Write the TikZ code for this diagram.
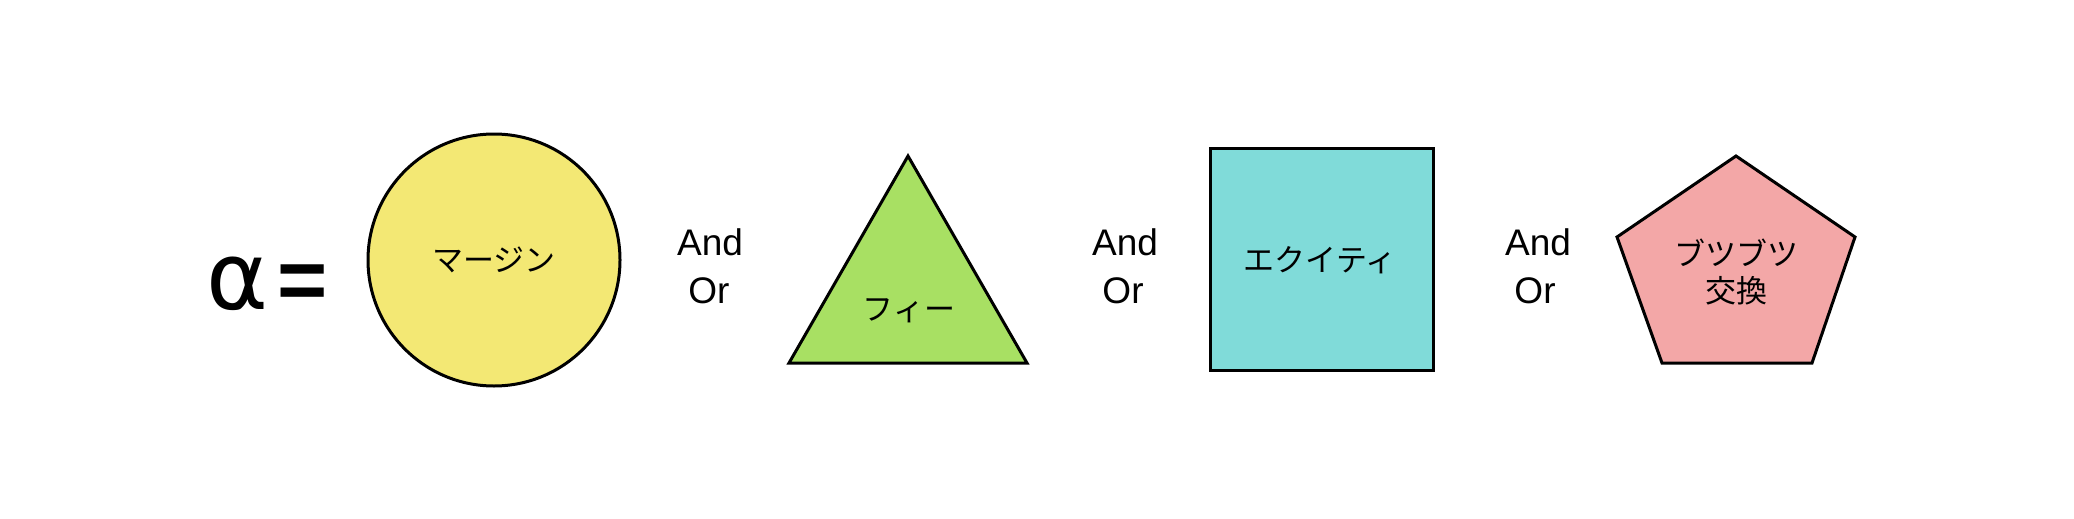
\documentclass[tikz,border=0pt]{standalone}
\usepackage{fontspec}
\setmainfont{Liberation Sans}
\newfontfamily\jpfont{Noto Sans CJK JP}
\newfontfamily\greekfont{DejaVu Sans}
\definecolor{shpyellow}{HTML}{F3E874}
\definecolor{shpgreen}{HTML}{A8E063}
\definecolor{shpcyan}{HTML}{80DBD9}
\definecolor{shppink}{HTML}{F3A7A7}
\begin{document}
\begin{tikzpicture}[x=1pt,y=-1pt,
  shapeline/.style={draw=black,line width=3pt,line join=miter},
  jptext/.style={font=\jpfont\fontsize{31}{37}\selectfont,inner sep=0pt,align=center},
  optext/.style={font=\fontsize{37}{48}\selectfont,inner sep=0pt,anchor=base}]
\useasboundingbox[fill=white] (0,0) rectangle (2074,519);
% alpha =
\node[inner sep=0pt,anchor=base west] (alpha) at (206,309) {{\greekfont\fontsize{94}{100}\selectfont α}\hspace{9pt}{\fontsize{86}{100}\selectfont\bfseries =}};
% circle
\node[shapeline,circle,fill=shpyellow,minimum size=252pt,inner sep=0pt] (circ) at (494,260) {};
\node[jptext] (margin) at (494,260) {マージン};
% And / Or 1
\node[optext] (and1) at (710,255) {And};
\node[optext] (or1) at (709,303) {Or};
% triangle
\coordinate (ta) at (908,156);
\coordinate (tb) at (1027,363);
\coordinate (tc) at (789,363);
\draw[shapeline,fill=shpgreen] (ta) -- (tb) -- (tc) -- cycle;
\node[jptext] (fee) at (909,311) {フィー};
% And / Or 2
\node[optext] (and2) at (1125,255) {And};
\node[optext] (or2) at (1123,303) {Or};
% rectangle
\node[shapeline,rectangle,fill=shpcyan,minimum width=223pt,minimum height=222pt,inner sep=0pt] (rect) at (1321.5,259) {};
\node[jptext] (equity) at (1320,260) {エクイティ};
% And / Or 3
\node[optext] (and3) at (1538,255) {And};
\node[optext] (or3) at (1535,303) {Or};
% pentagon
\coordinate (p1) at (1736,156);
\coordinate (p2) at (1855,237);
\coordinate (p3) at (1812,363);
\coordinate (p4) at (1662,363);
\coordinate (p5) at (1617,237);
\draw[shapeline,fill=shppink] (p1) -- (p2) -- (p3) -- (p4) -- (p5) -- cycle;
\node[jptext] (swap) at (1736,272) {ブツブツ\\交換};
\end{tikzpicture}
\end{document}
